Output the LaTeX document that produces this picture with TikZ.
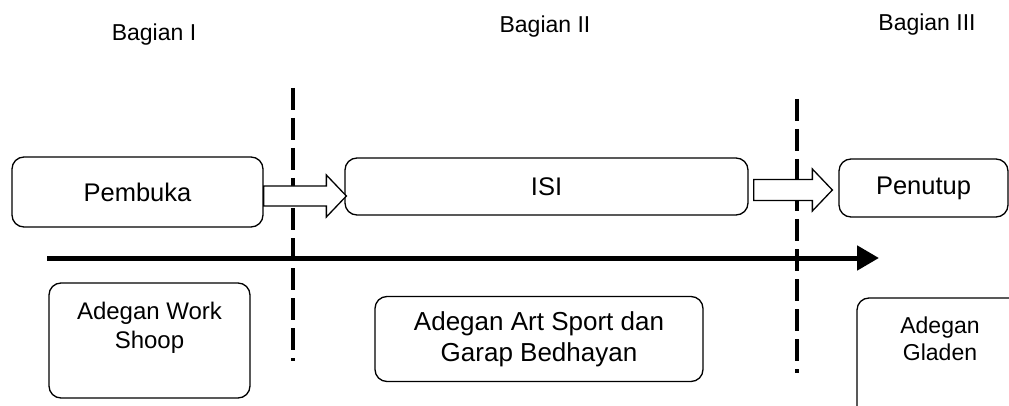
\documentclass[tikz,border=0pt]{standalone}
\usepackage{fontspec}
\setmainfont{Liberation Sans}
\usetikzlibrary{arrows.meta,calc}

\tikzset{
  box/.style={draw=black, line width=1.3pt, rounded corners=12pt, inner sep=0pt, align=center},
  head/.style={font=\fontsize{23pt}{27pt}\selectfont},
  big/.style={font=\fontsize{25.5pt}{30pt}\selectfont},
  mid/.style={font=\fontsize{24pt}{29pt}\selectfont, align=center},
  blockarrow/.style={draw=black, line width=1.3pt, fill=white, line join=miter},
  divider/.style={line width=3.6pt, dash pattern=on 22pt off 8pt},
  timeline/.style={line width=5pt, -{Triangle[length=22pt,width=24pt]}}
}

\begin{document}
\begin{tikzpicture}[x=1pt, y=-1pt]
  \useasboundingbox (0,0) rectangle (1009,406);
  \clip (0,0) rectangle (1009,406);

  % section titles
  \node[head] (t1) at (154,35) {Bagian I};
  \node[head] (t2) at (545,27) {Bagian II};
  \node[head] (t3) at (927,25) {Bagian III};

  % section dividers
  \coordinate (d1top) at (293,88);
  \coordinate (d1bot) at (293,361);
  \coordinate (d2top) at (797,99);
  \coordinate (d2bot) at (797,373);
  \draw[divider] (d1top) -- (d1bot);
  \draw[divider] (d2top) -- (d2bot);

  % upper row: parts of the performance
  \node[box, big, minimum width=251pt, minimum height=70pt] (pem) at (137.5,192) {Pembuka};
  \node[box, big, minimum width=403pt, minimum height=57pt] (isi) at (546.5,186.5) {ISI};
  \node[box, big, minimum width=169pt, minimum height=58pt] (pen) at (923.5,188) {Penutup};

  % block arrows between the parts
  \coordinate (a1s) at ($(pem.east)+(0,4)$);
  \coordinate (a1t) at ($(isi.west |- a1s)+(2,0)$);
  \draw[blockarrow] ($(a1s)+(0,-10)$) -- ($(a1t)+(-20,-10)$) -- ($(a1t)+(-20,-21)$)
     -- (a1t) -- ($(a1t)+(-20,21)$) -- ($(a1t)+(-20,10)$) -- ($(a1s)+(0,10)$) -- cycle;

  \coordinate (a2s) at ($(isi.east)+(5,3.5)$);
  \coordinate (a2t) at ($(pen.west |- a2s)+(-6,0)$);
  \draw[blockarrow] ($(a2s)+(0,-10.5)$) -- ($(a2t)+(-20,-10.5)$) -- ($(a2t)+(-20,-21)$)
     -- (a2t) -- ($(a2t)+(-20,21)$) -- ($(a2t)+(-20,10.5)$) -- ($(a2s)+(0,10.5)$) -- cycle;

  % time line
  \coordinate (tstart) at (47,258);
  \coordinate (tend) at (879,258);
  \draw[timeline] (tstart) -- (tend);

  % lower row: scenes
  \node[box, minimum width=201pt, minimum height=115pt] (ws) at (149.5,340.5) {};
  \node[mid] (wst) at (149.5,327.5) {Adegan Work\\Shoop};

  \node[box, font=\fontsize{26pt}{31pt}\selectfont, minimum width=328pt, minimum height=85pt] (art) at (539,339)
    {Adegan Art Sport dan\\Garap Bedhayan};

  \node[box, minimum width=183pt, minimum height=142pt] (gl) at (948.5,369) {};
  \node[font=\fontsize{23pt}{27pt}\selectfont, align=center] (glt) at (940,338.5) {Adegan\\Gladen};
\end{tikzpicture}
\end{document}
